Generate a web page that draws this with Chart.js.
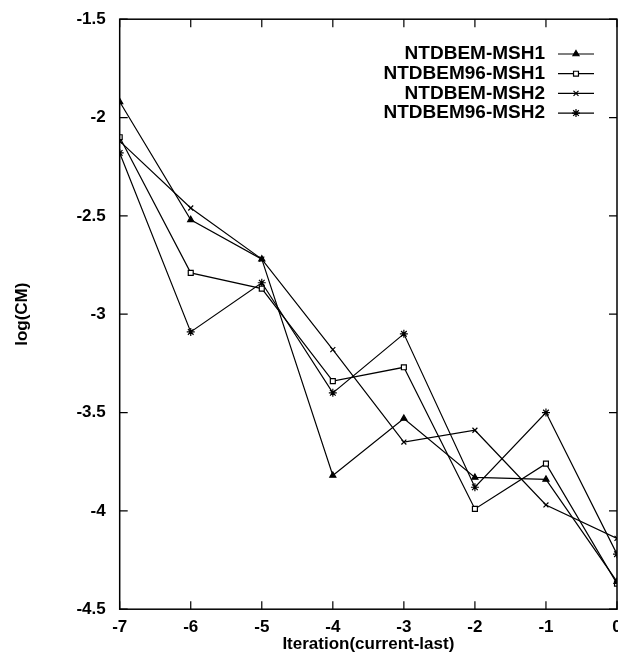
<!DOCTYPE html>
<html>
<head>
<meta charset="utf-8">
<script src="https://cdn.jsdelivr.net/npm/chart.js@4/dist/chart.umd.min.js"></script>
<style>
    html, body { margin: 0; padding: 0; background: #fff; overflow: hidden; }
    #wrap { width: 640px; height: 659px; margin-top: -5px; }
</style>
</head>
<body>
<div id="wrap"><canvas id="cmChart" width="640" height="659"></canvas></div>
<script>
// Данные
const iterations = [-7, -6, -5, -4, -3, -2, -1, 0];
const msh1 = [-1.92, -2.52, -2.72, -3.82, -3.53, -3.83, -3.84, -4.36];
const msh1_96 = [-2.10, -2.79, -2.87, -3.34, -3.27, -3.99, -3.76, -4.37];
const msh2 = [-2.12, -2.46, -2.72, -3.18, -3.65, -3.59, -3.97, -4.14];
const msh2_96 = [-2.18, -3.09, -2.84, -3.40, -3.10, -3.88, -3.50, -4.22];

const seriesNames = ['NTDBEM-MSH1', 'NTDBEM96-MSH1', 'NTDBEM-MSH2', 'NTDBEM96-MSH2'];
const yTicks = [-1.5, -2, -2.5, -3, -3.5, -4, -4.5];

const FONT = '"Liberation Sans", Arial, sans-serif';

function toPoints(values) {
    return iterations.map((x, i) => ({ x: x, y: values[i] }));
}

function makeDataset(label, values, style, fill, radius) {
    return {
        label: label,
        data: toPoints(values),
        borderColor: '#000',
        borderWidth: 1.2,
        pointStyle: style,
        pointRadius: radius,
        pointBackgroundColor: fill,
        pointBorderColor: '#000',
        pointBorderWidth: 1.2,
        tension: 0,
        fill: false
    };
}

const datasets = [
    makeDataset(seriesNames[0], msh1, 'triangle', '#000', 3.5),
    makeDataset(seriesNames[1], msh1_96, 'rect', '#fff', 3.5),
    makeDataset(seriesNames[2], msh2, 'crossRot', '#000', 3.5),
    makeDataset(seriesNames[3], msh2_96, 'star', '#000', 4)
];

// Рамка, внутренние засечки и легенда в стиле gnuplot
const framePlugin = {
    id: 'frame',
    afterDatasetsDraw(chart) {
        const ctx = chart.ctx;
        const a = chart.chartArea;
        const xs = chart.scales.x;
        const ys = chart.scales.y;
        const len = 8;
        ctx.save();
        ctx.strokeStyle = '#000';
        ctx.lineWidth = 1.5;
        ctx.strokeRect(a.left, a.top, a.right - a.left, a.bottom - a.top);
        ctx.lineWidth = 1.2;
        ctx.beginPath();
        xs.ticks.forEach(t => {
            const px = xs.getPixelForValue(t.value);
            ctx.moveTo(px, a.bottom); ctx.lineTo(px, a.bottom - len);
            ctx.moveTo(px, a.top); ctx.lineTo(px, a.top + len);
        });
        ys.ticks.forEach(t => {
            const py = ys.getPixelForValue(t.value);
            ctx.moveTo(a.left, py); ctx.lineTo(a.left + len, py);
            ctx.moveTo(a.right, py); ctx.lineTo(a.right - len, py);
        });
        ctx.stroke();

        // Легенда (канвас сдвинут на 5px вверх)
        ctx.font = 'bold 19px ' + FONT;
        ctx.textAlign = 'right';
        ctx.textBaseline = 'middle';
        ctx.fillStyle = '#000';
        chart.data.datasets.forEach((ds, i) => {
            const y = 59 + i * 19.7;
            ctx.fillText(ds.label, 545, y);
            ctx.beginPath();
            ctx.lineWidth = 1.2;
            ctx.moveTo(558, y); ctx.lineTo(594, y);
            ctx.stroke();
            ctx.fillStyle = ds.pointBackgroundColor;
            Chart.helpers.drawPoint(ctx, {
                pointStyle: ds.pointStyle,
                radius: ds.pointRadius,
                rotation: 0,
                borderWidth: 1.2
            }, 576, y);
            ctx.fillStyle = '#000';
        });
        ctx.restore();
    }
};

new Chart(document.getElementById('cmChart'), {
    type: 'line',
    data: { datasets: datasets },
    plugins: [framePlugin],
    options: {
        responsive: false,
        animation: false,
        layout: { padding: { top: 8, right: 23, bottom: 0, left: 12 } },
        plugins: {
            legend: { display: false },
            tooltip: { enabled: false }
        },
        scales: {
            x: {
                type: 'linear',
                min: -7,
                max: 0,
                grid: { display: false, drawTicks: false },
                border: { display: false },
                ticks: {
                    stepSize: 1,
                    padding: 8,
                    color: '#000',
                    font: { family: FONT, size: 17, weight: 'bold' },
                    callback: v => String(v)
                },
                title: {
                    display: true,
                    text: 'Iteration(current-last)',
                    color: '#000',
                    padding: { top: -11, bottom: -1 },
                    font: { family: FONT, size: 17, weight: 'bold' }
                }
            },
            y: {
                type: 'linear',
                min: -4.5,
                max: -1.5,
                grid: { display: false, drawTicks: false },
                border: { display: false },
                afterBuildTicks: scale => {
                    scale.ticks = yTicks.map(v => ({ value: v }));
                },
                ticks: {
                    padding: 14,
                    color: '#000',
                    font: { family: FONT, size: 17, weight: 'bold' },
                    callback: v => String(v)
                },
                title: {
                    display: true,
                    text: 'log(CM)',
                    color: '#000',
                    padding: { top: 0, bottom: 30 },
                    font: { family: FONT, size: 17, weight: 'bold' }
                }
            }
        }
    }
});
</script>
</body>
</html>
